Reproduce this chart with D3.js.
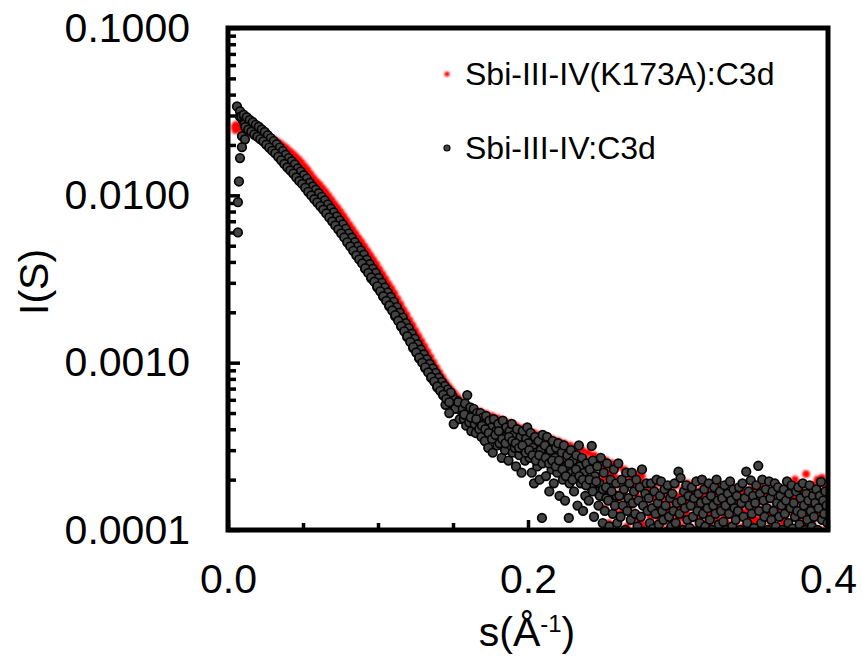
<!DOCTYPE html>
<html>
<head>
<meta charset="utf-8">
<script src="https://cdn.jsdelivr.net/npm/d3@7"></script>
<style>
body { margin: 0; background: #fff; }
text { font-family: "Liberation Sans", Arial, sans-serif; fill: #000; }
</style>
</head>
<body>
<svg id="chart" width="862" height="663"></svg>
<script>
// s (1/A) and I(S)

// Sbi-III-IV(K173A):C3d
var redPoints = [
  [0.0045,2.55e-2],[0.0050,2.52e-2],[0.0055,2.58e-2],[0.0060,2.50e-2],[0.0065,2.54e-2],[0.0070,2.49e-2],[0.008,2.52e-2],[0.010,2.48e-2],
  [0.0050,2.45e-2],[0.0055,2.64e-2],[0.0048,2.60e-2],
  [0.012,2.44e-2],[0.014,2.38e-2],[0.016,2.34e-2],[0.018,2.28e-2],[0.020,2.25e-2],[0.022,2.22e-2],[0.024,2.17e-2],[0.026,2.12e-2],[0.028,2.09e-2],
  [0.030,2.11e-2],[0.032,2.04e-2],[0.034,1.98e-2],[0.036,1.90e-2],[0.038,1.82e-2],[0.040,1.75e-2],[0.042,1.69e-2],[0.044,1.62e-2],[0.046,1.55e-2],[0.048,1.49e-2],
  [0.050,1.43e-2],[0.052,1.36e-2],[0.054,1.29e-2],[0.056,1.23e-2],[0.058,1.17e-2],[0.060,1.12e-2],[0.062,1.07e-2],[0.064,1.02e-2],[0.066,9.61e-3],[0.068,9.10e-3],
  [0.070,8.61e-3],[0.072,8.14e-3],[0.074,7.72e-3],[0.076,7.30e-3],[0.078,6.90e-3],[0.080,6.44e-3],[0.082,6.10e-3],[0.084,5.73e-3],[0.086,5.39e-3],[0.088,5.09e-3],
  [0.090,4.83e-3],[0.092,4.51e-3],[0.094,4.23e-3],[0.096,3.98e-3],[0.098,3.76e-3],[0.100,3.51e-3],[0.102,3.28e-3],[0.104,3.08e-3],[0.106,2.88e-3],[0.108,2.70e-3],
  [0.110,2.52e-3],[0.112,2.36e-3],[0.114,2.17e-3],[0.116,2.04e-3],[0.118,1.89e-3],[0.120,1.76e-3],[0.122,1.63e-3],[0.124,1.52e-3],[0.126,1.41e-3],[0.128,1.31e-3],
  [0.130,1.23e-3],[0.132,1.15e-3],[0.134,1.06e-3],[0.136,1.00e-3],[0.138,9.32e-4],[0.140,8.70e-4],[0.142,8.15e-4],[0.144,7.72e-4],[0.146,7.24e-4],[0.148,6.89e-4],
  [0.150,6.60e-4],[0.152,6.28e-4],[0.154,5.97e-4],[0.156,5.71e-4],[0.158,5.45e-4],[0.160,5.25e-4],[0.162,5.0e-4],[0.164,4.85e-4],[0.166,4.7e-4],
  [0.031,2.15e-2],[0.033,2.09e-2],[0.035,2.03e-2],[0.037,1.97e-2],[0.039,1.91e-2],[0.041,1.84e-2],[0.043,1.78e-2],[0.045,1.71e-2],[0.047,1.64e-2],[0.049,1.57e-2],
  [0.051,1.49e-2],[0.053,1.42e-2],[0.055,1.34e-2],[0.057,1.27e-2],[0.059,1.21e-2],[0.061,1.16e-2],[0.063,1.10e-2],[0.065,1.05e-2],[0.067,9.92e-3],[0.069,9.39e-3],
  [0.071,8.88e-3],[0.073,8.42e-3],[0.075,7.97e-3],[0.077,7.53e-3],[0.079,7.08e-3],[0.081,6.65e-3],[0.083,6.27e-3],[0.085,5.89e-3],[0.087,5.56e-3],[0.089,5.26e-3],
  [0.091,4.95e-3],[0.093,4.64e-3],[0.095,4.36e-3],[0.097,4.10e-3],[0.099,3.86e-3],[0.101,3.60e-3],[0.103,3.37e-3],[0.105,3.16e-3],[0.107,2.95e-3],[0.109,2.77e-3],
  [0.111,2.59e-3],[0.113,2.40e-3],[0.115,2.23e-3],[0.117,2.07e-3],[0.119,1.93e-3],[0.121,1.79e-3],[0.123,1.67e-3],[0.125,1.55e-3],[0.127,1.44e-3],[0.129,1.34e-3],
  [0.131,1.25e-3],[0.133,1.16e-3],[0.135,1.08e-3],[0.137,1.00e-3],[0.139,9.32e-4],[0.141,8.69e-4],[0.143,8.14e-4],[0.145,7.64e-4],[0.147,7.22e-4],[0.149,6.87e-4],
  [0.151,6.53e-4],[0.153,6.20e-4],[0.155,5.89e-4],
  [0.1675,4.9e-4],[0.1690,4.5e-4],[0.1705,4.7e-4],[0.1720,4.3e-4],[0.1735,4.6e-4],[0.1750,4.2e-4],[0.1765,4.5e-4],[0.1780,4.0e-4],[0.1795,4.3e-4],
  [0.1810,4.1e-4],[0.1825,3.8e-4],[0.1840,4.2e-4],[0.1855,3.7e-4],[0.1870,4.0e-4],[0.1885,3.6e-4],[0.1900,3.9e-4],[0.1915,3.5e-4],[0.1930,3.8e-4],[0.1945,3.4e-4],[0.1960,3.7e-4],[0.1975,3.3e-4],[0.1990,3.6e-4],
  [0.2005,3.3e-4],[0.2020,3.6e-4],[0.2035,3.1e-4],[0.2050,3.4e-4],[0.2065,3.0e-4],[0.2080,3.3e-4],[0.2095,2.9e-4],[0.2110,3.2e-4],[0.2125,2.8e-4],[0.2140,3.1e-4],[0.2155,2.7e-4],[0.2170,3.0e-4],[0.2185,2.6e-4],
  [0.2200,2.9e-4],[0.2215,2.5e-4],[0.2230,2.8e-4],[0.2245,2.2e-4],[0.2260,2.7e-4],[0.2275,2.4e-4],[0.2290,2.0e-4],[0.2305,2.6e-4],[0.2320,2.3e-4],[0.2335,2.7e-4],[0.2350,2.1e-4],[0.2365,2.5e-4],[0.2380,2.2e-4],[0.2395,2.6e-4],
  [0.2410,2.3e-4],[0.2425,1.9e-4],[0.2440,2.5e-4],[0.2455,2.1e-4],[0.2470,1.7e-4],[0.2485,2.4e-4],[0.2500,2.0e-4],[0.2515,2.3e-4],[0.2530,1.6e-4],[0.2545,2.2e-4],[0.2560,1.9e-4],[0.2575,2.1e-4],[0.2590,1.5e-4],
  [0.2605,2.0e-4],[0.2620,1.7e-4],[0.2635,1.3e-4],[0.2650,1.9e-4],[0.2665,1.5e-4],[0.2680,2.1e-4],[0.2695,1.2e-4],[0.2710,1.8e-4],[0.2725,1.6e-4],[0.2740,1.1e-4],[0.2755,1.9e-4],[0.2770,1.4e-4],[0.2785,1.7e-4],
  [0.168,5.1e-4],[0.172,4.95e-4],[0.176,4.8e-4],[0.180,4.65e-4],[0.184,4.5e-4],[0.188,4.35e-4],[0.192,4.2e-4],[0.196,4.05e-4],[0.200,3.95e-4],[0.204,3.8e-4],
  [0.208,3.7e-4],[0.212,3.6e-4],[0.216,3.5e-4],[0.220,3.4e-4],[0.224,3.3e-4],[0.228,3.2e-4],[0.232,3.1e-4],[0.236,3.0e-4],[0.240,2.9e-4],[0.244,2.8e-4],
  [0.248,2.7e-4],[0.252,2.6e-4],[0.256,2.5e-4],[0.260,2.4e-4],[0.264,2.3e-4],[0.268,2.2e-4],[0.272,2.15e-4],[0.276,2.1e-4],
  [0.2805,1.5e-4],[0.2815,1.2e-4],[0.2825,1.8e-4],[0.2835,1.05e-4],[0.2845,1.6e-4],[0.2855,1.35e-4],[0.2865,1.9e-4],[0.2875,1.15e-4],[0.2885,1.45e-4],[0.2895,1.7e-4],
  [0.2905,1.25e-4],[0.2915,1.0e-4],[0.2925,1.55e-4],[0.2935,1.8e-4],[0.2945,1.3e-4],[0.2955,1.65e-4],[0.2965,1.1e-4],[0.2975,1.45e-4],[0.2985,1.85e-4],[0.2995,1.2e-4],
  [0.3005,1.6e-4],[0.3015,1.35e-4],[0.3025,1.05e-4],[0.3035,1.75e-4],[0.3045,1.25e-4],[0.3055,1.5e-4],[0.3065,1.9e-4],[0.3075,1.15e-4],[0.3085,1.4e-4],[0.3095,1.65e-4],
  [0.3105,1.0e-4],[0.3115,1.45e-4],[0.3125,1.7e-4],[0.3135,1.2e-4],[0.3145,1.55e-4],[0.3155,1.3e-4],[0.3165,1.8e-4],[0.3175,1.1e-4],[0.3185,1.6e-4],[0.3195,1.35e-4],
  [0.3205,1.5e-4],[0.3215,1.05e-4],[0.3225,1.75e-4],[0.3235,1.3e-4],[0.3245,1.6e-4],[0.3255,1.15e-4],[0.3265,1.4e-4],[0.3275,1.85e-4],[0.3285,1.25e-4],[0.3295,1.55e-4],
  [0.3305,1.35e-4],[0.3315,1.7e-4],[0.3325,1.1e-4],[0.3335,1.5e-4],[0.3345,1.25e-4],[0.3355,1.65e-4],[0.3365,1.0e-4],[0.3375,1.45e-4],[0.3385,1.8e-4],[0.3395,1.2e-4],
  [0.3405,1.55e-4],[0.3415,1.3e-4],[0.3425,1.7e-4],[0.3435,1.05e-4],[0.3445,1.45e-4],[0.3455,1.2e-4],[0.3465,1.6e-4],[0.3475,1.35e-4],[0.3485,1.75e-4],[0.3495,1.1e-4],
  [0.3505,1.4e-4],[0.3515,1.65e-4],[0.3525,1.15e-4],[0.3535,1.5e-4],[0.3545,1.3e-4],[0.3555,1.8e-4],[0.3565,1.0e-4],[0.3575,1.45e-4],[0.3585,1.6e-4],[0.3595,1.25e-4],
  [0.3605,1.55e-4],[0.3615,1.2e-4],[0.3625,1.7e-4],[0.3635,1.35e-4],[0.3645,1.05e-4],[0.3655,1.5e-4],[0.3665,1.8e-4],[0.3675,1.25e-4],[0.3685,1.6e-4],[0.3695,1.1e-4],
  [0.3705,1.45e-4],[0.3715,1.7e-4],[0.3725,1.3e-4],[0.3735,1.55e-4],[0.3745,1.0e-4],[0.3755,1.4e-4],[0.3765,1.75e-4],[0.3775,1.2e-4],[0.3785,1.5e-4],[0.3795,1.85e-4],
  [0.3805,1.15e-4],[0.3815,1.6e-4],[0.3825,1.35e-4],[0.3835,1.7e-4],[0.3845,1.05e-4],[0.3855,1.45e-4],[0.3865,1.25e-4],[0.3875,1.65e-4],[0.3885,1.4e-4],[0.3895,1.1e-4],
  [0.3905,1.55e-4],[0.3915,1.3e-4],[0.3925,1.75e-4],[0.3935,1.2e-4],[0.3945,1.5e-4],[0.3955,1.0e-4],[0.3965,1.65e-4],[0.3975,1.35e-4],[0.3985,1.8e-4],[0.3995,1.45e-4],
  [0.3854,2.16e-4],[0.3728,1.9e-4],[0.3930,2.0e-4],
  [0.2510,1.35e-4],[0.2540,1.1e-4],[0.2570,1.45e-4],[0.2600,1.25e-4],[0.2630,1.6e-4],[0.2660,1.05e-4],[0.2690,1.4e-4],[0.2720,1.2e-4],[0.2750,1.5e-4],[0.2780,1.08e-4],
  [0.2810,1.32e-4],[0.2840,1.22e-4],[0.2870,1.5e-4],[0.2900,1.12e-4],[0.2930,1.38e-4],[0.2960,1.28e-4],[0.2990,1.58e-4],[0.3020,1.18e-4],[0.3050,1.3e-4],[0.3080,1.22e-4],
  [0.3110,1.6e-4],[0.3140,1.08e-4],[0.3170,1.42e-4],[0.3200,1.25e-4],[0.3230,1.52e-4],[0.3260,1.02e-4],[0.3290,1.38e-4],[0.3320,1.2e-4],[0.3350,1.45e-4],[0.3380,1.08e-4],
  [0.3410,1.4e-4],[0.3440,1.28e-4],[0.3470,1.52e-4],[0.3500,1.18e-4],[0.3530,1.32e-4],[0.3560,1.22e-4],[0.3590,1.55e-4],[0.3620,1.1e-4],[0.3650,1.35e-4],[0.3680,1.45e-4],
  [0.3710,1.15e-4],[0.3740,1.3e-4],[0.3770,1.55e-4],[0.3800,1.25e-4],[0.3830,1.42e-4],[0.3860,1.12e-4],[0.3890,1.5e-4],[0.3920,1.28e-4],[0.3950,1.38e-4],[0.3980,1.2e-4],
  [0.3640,1.9e-4],[0.3780,2.0e-4],[0.3900,1.85e-4],[0.3960,2.05e-4]
];

// Sbi-III-IV:C3d
var blackPoints = [
  [0.0060,3.40e-2],[0.0080,3.18e-2],[0.0093,2.26e-2],[0.0113,2.16e-2],[0.0093,1.94e-2],[0.0080,1.67e-2],[0.0073,1.21e-2],[0.0066,9.1e-3],[0.0066,6.0e-3],
  [0.008,2.95e-2],[0.010,2.80e-2],[0.012,2.78e-2],[0.014,2.70e-2],[0.016,2.55e-2],[0.018,2.52e-2],[0.020,2.40e-2],[0.022,2.36e-2],[0.024,2.24e-2],[0.026,2.19e-2],
  [0.028,2.05e-2],[0.030,2.01e-2],[0.032,1.89e-2],[0.034,1.85e-2],[0.036,1.72e-2],[0.038,1.67e-2],[0.040,1.56e-2],[0.042,1.52e-2],[0.044,1.43e-2],[0.046,1.39e-2],
  [0.048,1.30e-2],[0.050,1.26e-2],[0.052,1.17e-2],[0.054,1.14e-2],[0.056,1.06e-2],[0.058,1.03e-2],[0.060,9.6e-3],[0.062,9.35e-3],[0.064,8.75e-3],[0.066,8.45e-3],
  [0.068,7.82e-3],[0.070,7.56e-3],[0.072,7.0e-3],[0.074,6.78e-3],[0.076,6.28e-3],[0.078,6.06e-3],[0.080,5.55e-3],[0.082,5.36e-3],[0.084,4.92e-3],[0.086,4.75e-3],
  [0.088,4.38e-3],[0.090,4.25e-3],[0.092,3.86e-3],[0.094,3.74e-3],[0.096,3.40e-3],[0.098,3.32e-3],[0.100,3.00e-3],[0.102,2.90e-3],[0.104,2.62e-3],[0.106,2.55e-3],
  [0.108,2.30e-3],[0.110,2.24e-3],[0.112,2.00e-3],[0.114,1.93e-3],[0.116,1.73e-3],[0.118,1.68e-3],[0.120,1.49e-3],[0.122,1.46e-3],[0.124,1.28e-3],[0.126,1.26e-3],
  [0.128,1.11e-3],[0.130,1.10e-3],[0.132,9.7e-4],[0.134,9.5e-4],[0.136,8.5e-4],[0.138,8.4e-4],[0.140,7.5e-4],[0.142,7.4e-4],[0.144,6.7e-4],[0.146,6.6e-4],
  [0.148,6.1e-4],[0.150,6.1e-4],[0.152,5.6e-4],[0.154,5.7e-4],
  [0.009,2.95e-2],[0.011,2.94e-2],[0.013,2.85e-2],[0.015,2.75e-2],[0.017,2.67e-2],[0.019,2.57e-2],[0.021,2.50e-2],[0.023,2.42e-2],[0.025,2.32e-2],[0.027,2.23e-2],
  [0.029,2.13e-2],[0.031,2.05e-2],[0.033,1.96e-2],[0.035,1.87e-2],[0.037,1.78e-2],[0.039,1.70e-2],[0.041,1.62e-2],[0.043,1.55e-2],[0.045,1.48e-2],[0.047,1.41e-2],
  [0.049,1.35e-2],[0.051,1.28e-2],[0.053,1.22e-2],[0.055,1.155e-2],[0.057,1.10e-2],[0.059,1.045e-2],[0.061,9.98e-3],[0.063,9.50e-3],[0.065,9.03e-3],[0.067,8.54e-3],
  [0.069,8.09e-3],[0.071,7.64e-3],[0.073,7.25e-3],[0.075,6.86e-3],[0.077,6.48e-3],[0.079,6.09e-3],[0.081,5.72e-3],[0.083,5.40e-3],[0.085,5.07e-3],[0.087,4.79e-3],
  [0.089,4.53e-3],
  [0.011,2.66e-2],[0.013,2.57e-2],[0.015,2.49e-2],[0.017,2.41e-2],[0.019,2.33e-2],[0.021,2.26e-2],[0.023,2.19e-2],[0.025,2.10e-2],[0.027,2.01e-2],[0.029,1.93e-2],
  [0.031,1.85e-2],[0.033,1.78e-2],[0.035,1.69e-2],[0.037,1.615e-2],[0.039,1.53e-2],[0.041,1.47e-2],[0.043,1.41e-2],[0.045,1.34e-2],[0.047,1.28e-2],[0.049,1.22e-2],
  [0.051,1.16e-2],[0.053,1.10e-2],[0.055,1.045e-2],[0.057,9.93e-3],[0.059,9.45e-3],[0.061,9.03e-3],[0.063,8.60e-3],[0.065,8.17e-3],[0.067,7.72e-3],[0.069,7.32e-3],
  [0.071,6.92e-3],[0.073,6.56e-3],[0.075,6.20e-3],[0.077,5.86e-3],[0.079,5.51e-3],[0.081,5.18e-3],[0.083,4.88e-3],[0.085,4.59e-3],[0.087,4.33e-3],[0.089,4.09e-3],
  [0.091,3.9e-3],[0.093,3.95e-3],[0.095,3.45e-3],[0.097,3.5e-3],[0.099,3.05e-3],[0.101,3.05e-3],[0.103,2.66e-3],[0.105,2.68e-3],[0.107,2.33e-3],[0.109,2.36e-3],
  [0.111,2.04e-3],[0.113,2.04e-3],[0.115,1.76e-3],[0.117,1.77e-3],[0.119,1.52e-3],[0.121,1.53e-3],[0.123,1.31e-3],[0.125,1.33e-3],[0.127,1.13e-3],[0.129,1.16e-3],
  [0.131,9.8e-4],[0.133,1.02e-3],[0.135,8.6e-4],[0.137,8.95e-4],[0.139,7.6e-4],[0.141,7.9e-4],[0.143,6.75e-4],[0.145,7.0e-4],[0.147,6.1e-4],[0.149,6.4e-4],
  [0.151,5.5e-4],[0.153,5.9e-4],[0.155,5.2e-4],
  [0.0915,3.63e-3],[0.0935,3.89e-3],[0.0955,3.19e-3],[0.0975,3.45e-3],[0.0995,2.82e-3],[0.1015,3.02e-3],[0.1035,2.48e-3],[0.1055,2.64e-3],[0.1075,2.17e-3],[0.1095,2.32e-3],
  [0.1115,1.89e-3],[0.1135,2.01e-3],[0.1155,1.64e-3],[0.1175,1.74e-3],[0.1195,1.42e-3],[0.1215,1.51e-3],[0.1235,1.22e-3],[0.1255,1.30e-3],[0.1275,1.06e-3],[0.1295,1.13e-3],
  [0.1315,9.28e-4],[0.1335,9.88e-4],[0.1355,8.11e-4],[0.1375,8.72e-4],[0.1395,7.13e-4],[0.1415,7.68e-4],[0.1435,6.37e-4],[0.1455,6.87e-4],[0.1475,5.75e-4],[0.1495,6.30e-4],
  [0.1515,5.30e-4],[0.1535,5.81e-4],[0.1505,4.3e-4],[0.1475,5.0e-4],[0.1545,4.6e-4],[0.1450,5.6e-4],
  [0.0105,3.03e-2],[0.0125,2.93e-2],[0.0145,2.82e-2],[0.0165,2.74e-2],[0.0185,2.64e-2],[0.0205,2.57e-2],[0.0225,2.48e-2],[0.0245,2.39e-2],[0.0265,2.29e-2],[0.0285,2.20e-2],
  [0.0305,2.11e-2],[0.0325,2.02e-2],[0.0345,1.93e-2],[0.0365,1.84e-2],[0.0385,1.75e-2],[0.0405,1.67e-2],[0.0425,1.60e-2],[0.0445,1.53e-2],[0.0465,1.45e-2],[0.0485,1.39e-2],
  [0.0505,1.32e-2],[0.0525,1.26e-2],[0.0545,1.19e-2],[0.0565,1.13e-2],[0.0585,1.08e-2],[0.0605,1.03e-2],[0.0625,9.80e-3],[0.0645,9.32e-3],[0.0665,8.82e-3],[0.0685,8.35e-3],
  [0.0705,7.90e-3],[0.0725,7.48e-3],[0.0745,7.08e-3],[0.0765,6.70e-3],[0.0785,6.31e-3],[0.0805,5.91e-3],[0.0825,5.59e-3],[0.0845,5.25e-3],[0.0865,4.95e-3],[0.0885,4.68e-3],
  [0.0905,4.42e-3],[0.0925,4.13e-3],[0.0945,3.88e-3],[0.0965,3.65e-3],[0.0985,3.44e-3],[0.1005,3.21e-3],[0.1025,3.01e-3],[0.1045,2.82e-3],[0.1065,2.63e-3],[0.1085,2.47e-3],
  [0.1105,2.31e-3],[0.1125,2.15e-3],[0.1145,1.99e-3],[0.1165,1.86e-3],[0.1185,1.72e-3],[0.1205,1.61e-3],[0.1225,1.49e-3],[0.1245,1.39e-3],[0.1265,1.29e-3],[0.1285,1.20e-3],
  [0.1305,1.12e-3],[0.1325,1.05e-3],[0.1345,9.83e-4],[0.1365,9.24e-4],[0.1385,8.68e-4],[0.1405,8.13e-4],[0.1425,7.68e-4],[0.1445,7.27e-4],[0.1465,6.91e-4],[0.1485,6.63e-4],
  [0.0115,2.56e-2],[0.0135,2.47e-2],[0.0155,2.40e-2],[0.0175,2.31e-2],[0.0195,2.24e-2],[0.0215,2.17e-2],[0.0235,2.10e-2],[0.0255,2.01e-2],[0.0275,1.93e-2],[0.0295,1.85e-2],
  [0.0315,1.78e-2],[0.0335,1.70e-2],[0.0355,1.62e-2],[0.0375,1.54e-2],[0.0395,1.47e-2],[0.0415,1.41e-2],[0.0435,1.35e-2],[0.0455,1.28e-2],[0.0475,1.22e-2],[0.0495,1.17e-2],
  [0.0515,1.11e-2],[0.0535,1.05e-2],[0.0555,9.98e-3],[0.0575,9.48e-3],[0.0595,9.06e-3],[0.0615,8.63e-3],[0.0635,8.22e-3],[0.0655,7.80e-3],[0.0675,7.38e-3],[0.0695,6.99e-3],
  [0.0715,6.61e-3],[0.0735,6.26e-3],[0.0755,5.92e-3],[0.0775,5.60e-3],[0.0795,5.24e-3],[0.0815,4.95e-3],[0.0835,4.66e-3],[0.0855,4.38e-3],[0.0875,4.14e-3],[0.0895,3.92e-3],
  [0.0915,3.67e-3],[0.0935,3.44e-3],[0.0955,3.23e-3],[0.0975,3.05e-3],[0.0995,2.86e-3],[0.1015,2.67e-3],[0.1035,2.50e-3],[0.1055,2.34e-3],[0.1075,2.20e-3],[0.1095,2.05e-3],
  [0.1115,1.92e-3],[0.1135,1.78e-3],[0.1155,1.66e-3],[0.1175,1.54e-3],[0.1195,1.44e-3],[0.1215,1.33e-3],[0.1235,1.24e-3],[0.1255,1.15e-3],[0.1275,1.07e-3],[0.1295,1.00e-3],
  [0.1315,9.38e-4],[0.1335,8.74e-4],[0.1355,8.20e-4],[0.1375,7.71e-4],[0.1395,7.21e-4],[0.1415,6.79e-4],[0.1435,6.43e-4],[0.1455,6.08e-4],[0.1475,5.81e-4],
  [0.1565,5.3e-4],[0.1572,4.6e-4],[0.1580,5.7e-4],[0.1588,4.2e-4],[0.1595,6.4e-4],[0.1600,5.0e-4],[0.1608,4.4e-4],[0.1615,5.4e-4],[0.1622,3.9e-4],[0.1630,4.8e-4],
  [0.1638,5.3e-4],[0.1645,4.3e-4],[0.1652,3.8e-4],[0.1660,5.0e-4],[0.1668,4.5e-4],[0.1675,4.0e-4],[0.1683,5.0e-4],[0.1690,3.6e-4],[0.1698,4.7e-4],
  [0.1705,4.3e-4],[0.1712,3.4e-4],[0.1720,4.8e-4],[0.1727,3.9e-4],[0.1735,3.1e-4],[0.1742,4.5e-4],[0.1750,3.7e-4],[0.1757,4.1e-4],[0.1765,2.9e-4],[0.1772,4.6e-4],
  [0.1780,3.5e-4],[0.1787,3.9e-4],[0.1795,3.2e-4],
  [0.1802,4.3e-4],[0.1810,3.3e-4],[0.1817,3.8e-4],[0.1825,2.7e-4],[0.1832,4.5e-4],[0.1840,3.6e-4],[0.1847,3.0e-4],[0.1855,4.1e-4],[0.1862,3.4e-4],[0.1870,2.6e-4],
  [0.1877,3.9e-4],[0.1885,3.2e-4],[0.1892,4.3e-4],[0.1898,2.9e-4],
  [0.1905,3.7e-4],[0.1912,3.1e-4],[0.1920,2.4e-4],[0.1927,4.0e-4],[0.1935,3.4e-4],[0.1942,2.8e-4],[0.1950,3.6e-4],[0.1957,2.2e-4],[0.1965,3.9e-4],[0.1972,3.0e-4],
  [0.1980,2.6e-4],[0.1987,3.5e-4],[0.1995,4.1e-4],
  [0.2002,3.3e-4],[0.2010,2.7e-4],[0.2017,3.8e-4],[0.2025,2.2e-4],[0.2032,3.1e-4],[0.2040,1.9e-4],[0.2047,3.6e-4],[0.2055,2.9e-4],[0.2062,2.4e-4],[0.2070,3.4e-4],
  [0.2077,2.0e-4],[0.2085,3.0e-4],[0.2093,1.18e-4],[0.2098,3.7e-4],
  [0.2105,2.6e-4],[0.2112,3.2e-4],[0.2120,2.1e-4],[0.2127,3.6e-4],[0.2135,2.8e-4],[0.2142,1.7e-4],[0.2150,3.0e-4],[0.2157,2.3e-4],[0.2165,3.4e-4],[0.2172,1.9e-4],
  [0.2180,2.7e-4],[0.2187,3.1e-4],[0.2195,2.2e-4],
  [0.2202,3.3e-4],[0.2210,1.6e-4],[0.2217,2.5e-4],[0.2225,2.9e-4],[0.2232,2.0e-4],[0.2240,3.2e-4],[0.2247,1.5e-4],[0.2255,2.4e-4],[0.2262,2.8e-4],[0.2272,1.18e-4],
  [0.2277,1.9e-4],[0.2285,3.0e-4],[0.2292,2.2e-4],
  [0.2300,2.6e-4],[0.2307,1.7e-4],[0.2315,2.1e-4],[0.2322,2.8e-4],[0.2330,1.4e-4],[0.2339,3.2e-4],[0.2345,2.4e-4],[0.2352,1.9e-4],[0.2360,2.7e-4],[0.2367,1.3e-4],
  [0.2375,2.2e-4],[0.2382,1.6e-4],[0.2390,2.5e-4],[0.2397,2.0e-4],
  [0.2405,1.5e-4],[0.2412,2.3e-4],[0.2420,1.8e-4],[0.2425,3.18e-4],[0.2432,2.6e-4],[0.2440,1.2e-4],[0.2447,2.1e-4],[0.2455,1.7e-4],[0.2462,2.4e-4],[0.2470,1.4e-4],
  [0.2477,1.9e-4],[0.2485,2.7e-4],[0.2492,1.6e-4],[0.2498,1.1e-4],
  [0.1575,4.9e-4],[0.1618,4.7e-4],[0.1655,4.6e-4],[0.1693,4.2e-4],[0.1715,4.0e-4],[0.1738,3.8e-4],[0.1760,3.5e-4],[0.1783,3.7e-4],[0.1805,3.9e-4],[0.1828,3.5e-4],
  [0.1850,3.3e-4],[0.1873,3.6e-4],[0.1895,3.4e-4],[0.1918,3.3e-4],[0.1940,3.1e-4],[0.1963,3.2e-4],[0.1985,2.9e-4],[0.2008,3.0e-4],[0.2030,2.8e-4],[0.2052,2.6e-4],
  [0.2075,2.8e-4],[0.2097,2.5e-4],[0.2118,2.7e-4],[0.2140,2.5e-4],[0.2162,2.6e-4],[0.2185,2.4e-4],[0.2207,2.6e-4],[0.2230,2.3e-4],[0.2252,2.1e-4],[0.2275,2.5e-4],
  [0.2297,2.0e-4],[0.2320,2.3e-4],[0.2342,2.1e-4],[0.2365,2.0e-4],[0.2387,1.85e-4],[0.2410,2.0e-4],[0.2432,1.7e-4],[0.2455,1.95e-4],[0.2478,1.6e-4],[0.2500,1.75e-4],
  [0.2522,1.55e-4],[0.2545,1.85e-4],[0.2568,1.5e-4],[0.2590,1.6e-4],
  [0.2505,2.2e-4],[0.2512,1.3e-4],[0.2520,1.8e-4],[0.2527,2.5e-4],[0.2535,1.5e-4],[0.2542,1.05e-4],[0.2550,2.0e-4],[0.2557,1.7e-4],[0.2565,1.25e-4],[0.2572,2.3e-4],
  [0.2580,1.4e-4],[0.2587,1.9e-4],[0.2595,1.1e-4],
  [0.2602,2.5e-4],[0.2610,1.6e-4],[0.2617,1.2e-4],[0.2625,2.0e-4],[0.2632,1.4e-4],[0.2640,1.75e-4],[0.2647,1.0e-4],[0.2655,2.2e-4],[0.2662,1.3e-4],[0.2670,1.55e-4],
  [0.2677,1.9e-4],[0.2685,1.15e-4],[0.2692,2.2e-4],[0.2699,1.45e-4],
  [0.2707,1.7e-4],[0.2715,1.25e-4],[0.2722,2.0e-4],[0.2730,1.05e-4],[0.2737,1.5e-4],[0.2745,1.8e-4],[0.2752,1.2e-4],[0.2760,2.3e-4],[0.2767,1.4e-4],[0.2775,0.98e-4],
  [0.2782,1.65e-4],[0.2790,1.9e-4],[0.2797,1.3e-4],
  [0.2805,1.55e-4],[0.2812,1.1e-4],[0.2820,1.9e-4],[0.2827,1.35e-4],[0.2835,1.02e-4],[0.2842,1.7e-4],[0.2850,1.25e-4],[0.2857,2.0e-4],[0.2865,1.45e-4],[0.2872,1.08e-4],
  [0.2880,1.6e-4],[0.2887,1.95e-4],[0.2895,1.3e-4],
  [0.2902,1.15e-4],[0.2910,1.75e-4],[0.2917,1.4e-4],[0.2925,0.97e-4],[0.2932,1.85e-4],[0.2940,1.2e-4],[0.2947,1.55e-4],[0.2955,1.05e-4],[0.2962,1.65e-4],[0.2970,1.3e-4],
  [0.2977,1.9e-4],[0.2985,1.1e-4],[0.2993,1.45e-4],
  [0.3003,2.23e-4],[0.3010,1.25e-4],[0.3017,2.05e-4],[0.3025,1.5e-4],[0.3032,1.0e-4],[0.3040,1.7e-4],[0.3047,1.35e-4],[0.3055,1.85e-4],[0.3062,1.15e-4],[0.3070,1.6e-4],
  [0.3077,1.03e-4],[0.3085,1.4e-4],[0.3092,1.8e-4],
  [0.3100,1.2e-4],[0.3107,1.55e-4],[0.3115,0.98e-4],[0.3122,1.95e-4],[0.3130,1.3e-4],[0.3137,1.65e-4],[0.3145,1.1e-4],[0.3152,1.45e-4],[0.3160,2.0e-4],[0.3167,1.25e-4],
  [0.3175,1.75e-4],[0.3182,1.05e-4],[0.3190,1.5e-4],[0.3197,1.35e-4],
  [0.3205,1.9e-4],[0.3212,1.15e-4],[0.3220,1.6e-4],[0.3227,1.0e-4],[0.3235,1.4e-4],[0.3242,1.8e-4],[0.3250,1.25e-4],[0.3257,2.0e-4],[0.3265,1.5e-4],[0.3272,1.08e-4],
  [0.3280,1.7e-4],[0.3287,1.3e-4],[0.3295,1.55e-4],
  [0.3302,1.12e-4],[0.3310,1.85e-4],[0.3317,1.4e-4],[0.3325,1.0e-4],[0.3332,1.65e-4],[0.3340,1.25e-4],[0.3347,1.95e-4],[0.3355,1.5e-4],[0.3362,1.05e-4],[0.3370,1.75e-4],
  [0.3377,1.35e-4],[0.3385,1.15e-4],[0.3392,1.6e-4],
  [0.3400,1.3e-4],[0.3407,1.8e-4],[0.3415,1.0e-4],[0.3422,1.45e-4],[0.3430,1.9e-4],[0.3437,1.2e-4],[0.3445,1.55e-4],[0.3455,2.23e-4],[0.3462,1.1e-4],[0.3470,1.7e-4],
  [0.3477,1.4e-4],[0.3485,1.98e-4],[0.3492,1.25e-4],
  [0.3500,1.6e-4],[0.3507,1.03e-4],[0.3515,1.45e-4],[0.3522,1.85e-4],[0.3535,2.42e-4],[0.3540,1.3e-4],[0.3547,1.65e-4],[0.3555,1.1e-4],[0.3562,2.0e-4],[0.3570,1.5e-4],
  [0.3577,1.2e-4],[0.3585,1.75e-4],[0.3592,1.35e-4],
  [0.3600,1.0e-4],[0.3607,1.95e-4],[0.3615,1.55e-4],[0.3622,1.15e-4],[0.3630,1.7e-4],[0.3637,1.3e-4],[0.3645,1.9e-4],[0.3652,1.05e-4],[0.3660,1.45e-4],[0.3667,1.8e-4],
  [0.3675,1.2e-4],[0.3682,1.6e-4],[0.3690,1.4e-4],
  [0.3697,1.0e-4],[0.3705,1.75e-4],[0.3712,1.25e-4],[0.3720,1.5e-4],[0.3727,1.95e-4],[0.3735,1.1e-4],[0.3742,1.65e-4],[0.3750,1.35e-4],[0.3757,1.85e-4],[0.3765,1.02e-4],
  [0.3772,1.45e-4],[0.3780,1.2e-4],[0.3787,1.7e-4],
  [0.3795,1.3e-4],[0.3802,1.8e-4],[0.3810,1.08e-4],[0.3817,1.55e-4],[0.3825,1.25e-4],[0.3832,1.9e-4],[0.3840,1.4e-4],[0.3847,1.0e-4],[0.3855,1.65e-4],[0.3862,1.15e-4],
  [0.3870,1.5e-4],[0.3877,1.85e-4],[0.3885,1.3e-4],
  [0.3892,1.05e-4],[0.3900,1.6e-4],[0.3907,1.2e-4],[0.3915,1.45e-4],[0.3922,1.75e-4],[0.3930,1.0e-4],[0.3937,1.35e-4],[0.3945,1.6e-4],[0.3953,1.94e-4],[0.3960,1.15e-4],
  [0.3967,1.5e-4],[0.3975,1.25e-4],[0.3982,1.7e-4],[0.3990,1.4e-4],[0.3997,1.1e-4]
];

var xTicks = [0, 0.2, 0.4];
var xTickLabels = ["0.0", "0.2", "0.4"];
var xMinorTicks = [0.05, 0.1, 0.15, 0.25, 0.3, 0.35];
var yTicks = [1e-4, 1e-3, 1e-2, 1e-1];
var yTickLabels = ["0.0001", "0.0010", "0.0100", "0.1000"];
var seriesNames = ["Sbi-III-IV(K173A):C3d", "Sbi-III-IV:C3d"];

function drawChart() {
  var svg = d3.select("#chart");
  var plotLeft = 228, plotRight = 828, plotTop = 28, plotBottom = 530;

  var x = d3.scaleLinear().domain([0, 0.4]).range([plotLeft, plotRight]);
  var y = d3.scaleLog().domain([1e-4, 1e-1]).range([plotBottom, plotTop]);

  var defs = svg.append("defs");
  defs.append("clipPath").attr("id", "plotclip")
    .append("rect").attr("x", plotLeft).attr("y", plotTop)
    .attr("width", plotRight - plotLeft).attr("height", plotBottom - plotTop);
  defs.append("filter").attr("id", "soft")
    .attr("x", "-20%").attr("y", "-20%").attr("width", "140%").attr("height", "140%")
    .append("feGaussianBlur").attr("stdDeviation", 0.9);

  // minor ticks on the log axis come straight from the scale
  var yMinor = y.ticks().filter(function(d) { return yTicks.indexOf(d) < 0; });

  var yAxis = d3.axisLeft(y).tickValues(yTicks).tickSize(-12).tickSizeOuter(0).tickPadding(38)
    .tickFormat(function(d, i) { return yTickLabels[i]; });
  var yAxisMinor = d3.axisLeft(y).tickValues(yMinor).tickSize(-8).tickSizeOuter(0).tickFormat("");
  var xAxis = d3.axisBottom(x).tickValues(xTicks).tickSize(-10).tickSizeOuter(0).tickPadding(34)
    .tickFormat(function(d, i) { return xTickLabels[i]; });
  var xAxisMinor = d3.axisBottom(x).tickValues(xMinorTicks).tickSize(-7).tickSizeOuter(0).tickFormat("");

  function styleAxis(g) {
    g.select(".domain").remove();
    g.selectAll(".tick line").attr("stroke", "#000").attr("stroke-width", 3.5);
    g.selectAll(".tick text").style("font-size", "41px").attr("fill", "#000");
  }

  svg.append("g").attr("transform", "translate(" + plotLeft + ",0)").call(yAxisMinor).call(styleAxis);
  svg.append("g").attr("transform", "translate(" + plotLeft + ",0)").call(yAxis).call(styleAxis);
  svg.append("g").attr("transform", "translate(0," + plotBottom + ")").call(xAxisMinor).call(styleAxis);
  svg.append("g").attr("transform", "translate(0," + plotBottom + ")").call(xAxis).call(styleAxis);

  var plot = svg.append("g").attr("clip-path", "url(#plotclip)");

  plot.append("g").attr("filter", "url(#soft)")
    .selectAll("circle").data(redPoints).enter().append("circle")
      .attr("cx", function(d) { return x(d[0]); })
      .attr("cy", function(d) { return y(d[1]); })
      .attr("r", 3.8)
      .attr("fill", "#ff0000");

  plot.append("g")
    .selectAll("circle").data(blackPoints).enter().append("circle")
      .attr("cx", function(d) { return x(d[0]); })
      .attr("cy", function(d) { return y(d[1]); })
      .attr("r", 4.3)
      .attr("fill", "#444")
      .attr("stroke", "#050505")
      .attr("stroke-width", 1.7);

  // frame
  svg.append("rect")
    .attr("x", plotLeft).attr("y", plotTop)
    .attr("width", plotRight - plotLeft).attr("height", plotBottom - plotTop)
    .attr("fill", "none").attr("stroke", "#000").attr("stroke-width", 5);

  // axis titles
  svg.append("text")
    .attr("transform", "translate(48,282) rotate(-90)")
    .attr("text-anchor", "middle")
    .style("font-size", "41px")
    .text("I(S)");

  var xt = svg.append("text")
    .attr("x", 527).attr("y", 646)
    .attr("text-anchor", "middle")
    .style("font-size", "41px");
  xt.append("tspan").text("s(Å");
  xt.append("tspan").attr("dy", -14).style("font-size", "24px").text("-1");
  xt.append("tspan").attr("dy", 14).text(")");

  // legend
  var legend = svg.append("g");
  legend.append("circle").attr("cx", 447).attr("cy", 74).attr("r", 2.6)
    .attr("fill", "#ff0000").attr("filter", "url(#soft)");
  legend.append("circle").attr("cx", 447).attr("cy", 148).attr("r", 3)
    .attr("fill", "#444").attr("stroke", "#050505").attr("stroke-width", 1.2);
  legend.selectAll("text.lab").data(seriesNames).enter().append("text")
    .attr("class", "lab")
    .attr("x", 465)
    .attr("y", function(d, i) { return i === 0 ? 85 : 159; })
    .style("font-size", "32px")
    .text(function(d) { return d; });
}

drawChart();
</script>
</body>
</html>
